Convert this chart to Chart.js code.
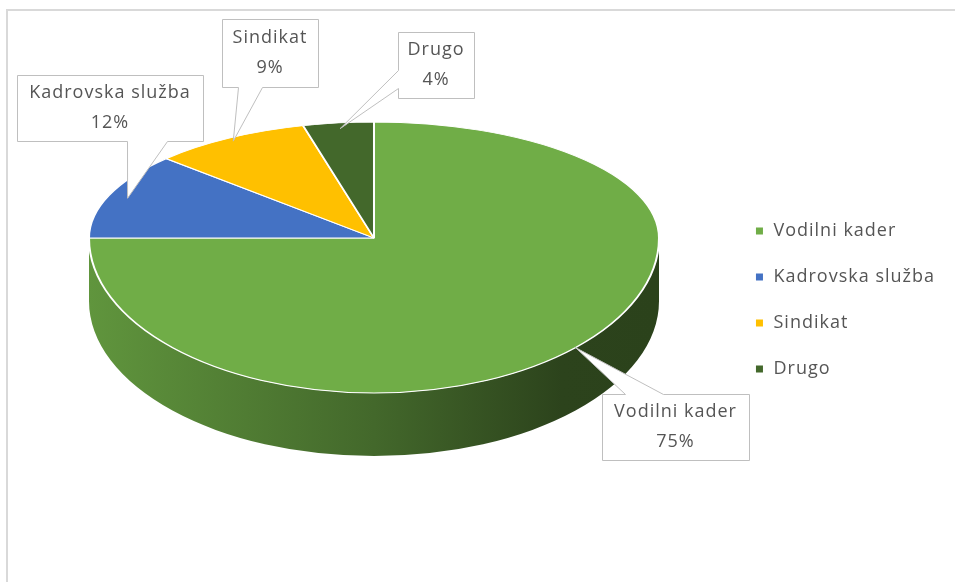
<!DOCTYPE html>
<html>
<head>
<meta charset="utf-8">
<script src="https://cdn.jsdelivr.net/npm/chart.js@4.4.0/dist/chart.umd.min.js"></script>
<style>
  html, body { margin: 0; padding: 0; background: #ffffff; }
  canvas { display: block; }
</style>
</head>
<body>
<canvas id="chart" width="955" height="582"></canvas>
<script>
const categories = ['Vodilni kader', 'Kadrovska služba', 'Sindikat', 'Drugo'];
const shares = [75, 12, 9, 4];
const sliceColors = ['#70ad47', '#4472c4', '#ffc000', '#43682b'];

// Callout boxes for the data labels: [left, top, width, height], the side that carries
// the pointer, the pointer's base span along that side, and how far out on the slice it points.
const callouts = [
  { box: [602, 394, 147, 66], side: 'top',    base: [625, 663], reach: 1.0 },
  { box: [17, 75, 186, 66],   side: 'bottom', base: [127, 167], reach: 0.93 },
  { box: [222, 19, 96, 68],   side: 'bottom', base: [238, 262], reach: 0.97 },
  { box: [398, 32, 76, 66],   side: 'left',   base: [70, 88],   reach: 0.95 }
];

// Tilted disc: centre, horizontal radius, vertical radii of the far and near halves, wall height.
const disc = { cx: 374, cy: 238, rx: 285, ryBack: 116, ryFront: 155, depth: 63 };

const FONT = '"Open Sans", "DejaVu Sans", sans-serif';
const FONT_SIZE = 18;
const TRACKING = '1px';
const TEXT = '#555555';

function project(angle, k) {
  const s = Math.sin(angle);
  const ry = s < 0 ? disc.ryBack : disc.ryFront;
  return { x: disc.cx + k * disc.rx * Math.cos(angle), y: disc.cy + k * ry * s };
}

function shade(hex, f) {
  const n = parseInt(hex.slice(1), 16);
  const r = Math.round(((n >> 16) & 255) * f);
  const g = Math.round(((n >> 8) & 255) * f);
  const b = Math.round((n & 255) * f);
  return `rgb(${r},${g},${b})`;
}

// Parts of an arc that face the viewer (angles between 0 and PI, canvas orientation).
function frontSpans(a0, a1) {
  const out = [];
  for (const k of [-2 * Math.PI, 0, 2 * Math.PI]) {
    const s = Math.max(a0 + k, 0), e = Math.min(a1 + k, Math.PI);
    if (e > s) out.push([s, e]);
  }
  return out;
}

// Slightly open letter spacing for all text, set before the legend is measured.
const tracking = {
  id: 'tracking',
  beforeLayout(chart) { chart.ctx.letterSpacing = TRACKING; },
  beforeDraw(chart) { chart.ctx.letterSpacing = TRACKING; }
};

const frame = {
  id: 'frame',
  beforeDraw(chart) {
    const ctx = chart.ctx;
    ctx.save();
    ctx.strokeStyle = '#d9d9d9';
    ctx.lineWidth = 2;
    ctx.strokeRect(7, 10, 3000, 3000);
    ctx.restore();
  }
};

const tilt = {
  id: 'tilt',
  beforeDatasetDraw(chart, args) {
    const meta = args.meta;
    const ctx = chart.ctx;
    const first = meta.data[0];
    const ox = first.x, oy = first.y, r = first.outerRadius;

    // visible wall under the near rim
    meta.data.forEach((arc) => {
      frontSpans(arc.startAngle, arc.endAngle).forEach(([s, e]) => {
        const base = arc.options.backgroundColor;
        const grad = ctx.createLinearGradient(disc.cx - disc.rx, 0, disc.cx + disc.rx, 0);
        grad.addColorStop(0, shade(base, 0.86));
        grad.addColorStop(0.5, shade(base, 0.6));
        grad.addColorStop(0.83, shade(base, 0.39));
        grad.addColorStop(1, shade(base, 0.38));
        ctx.save();
        ctx.beginPath();
        ctx.ellipse(disc.cx, disc.cy, disc.rx, disc.ryFront, 0, s, e);
        ctx.ellipse(disc.cx, disc.cy + disc.depth, disc.rx, disc.ryFront, 0, e, s, true);
        ctx.closePath();
        ctx.fillStyle = grad;
        ctx.fill();
        ctx.restore();
      });
    });

    // top face: far half and near half flattened by different amounts
    [[disc.ryBack, true], [disc.ryFront, false]].forEach(([ry, back]) => {
      ctx.save();
      ctx.beginPath();
      if (back) ctx.rect(0, 0, chart.width, disc.cy + 1);
      else ctx.rect(0, disc.cy, chart.width, chart.height - disc.cy);
      ctx.clip();
      ctx.translate(disc.cx, disc.cy);
      ctx.scale(disc.rx / r, ry / r);
      ctx.translate(-ox, -oy);
      meta.controller.draw();
      ctx.restore();
    });
    return false;
  },
  afterDatasetsDraw(chart) {
    const meta = chart.getDatasetMeta(0);
    const ctx = chart.ctx;
    const values = chart.data.datasets[0].data;
    const total = values.reduce((a, b) => a + b, 0);
    meta.data.forEach((arc, i) => {
      const c = callouts[i];
      const tip = project((arc.startAngle + arc.endAngle) / 2, c.reach);
      const [bx, by, bw, bh] = c.box;
      const L = bx + 0.5, T = by + 0.5, R = bx + bw + 0.5, B = by + bh + 0.5;
      ctx.save();
      ctx.beginPath();
      ctx.moveTo(L, T);
      if (c.side === 'top') {
        ctx.lineTo(c.base[0] + 0.5, T); ctx.lineTo(tip.x, tip.y); ctx.lineTo(c.base[1] + 0.5, T);
      }
      ctx.lineTo(R, T);
      ctx.lineTo(R, B);
      if (c.side === 'bottom') {
        ctx.lineTo(c.base[1] + 0.5, B); ctx.lineTo(tip.x, tip.y); ctx.lineTo(c.base[0] + 0.5, B);
      }
      ctx.lineTo(L, B);
      if (c.side === 'left') {
        ctx.lineTo(L, c.base[1] + 0.5); ctx.lineTo(tip.x, tip.y); ctx.lineTo(L, c.base[0] + 0.5);
      }
      ctx.closePath();
      ctx.fillStyle = '#ffffff';
      ctx.fill();
      ctx.strokeStyle = '#bfbfbf';
      ctx.lineWidth = 1;
      ctx.stroke();

      const pct = Math.round(values[i] / total * 100) + '%';
      const mx = bx + bw / 2, my = by + bh / 2;
      ctx.fillStyle = TEXT;
      ctx.font = `${FONT_SIZE}px ${FONT}`;
      ctx.letterSpacing = TRACKING;
      ctx.textAlign = 'center';
      ctx.textBaseline = 'middle';
      ctx.fillText(chart.data.labels[i], mx, my - 15);
      ctx.fillText(pct, mx, my + 15);
      ctx.restore();
    });
  }
};

new Chart(document.getElementById('chart'), {
  type: 'pie',
  data: {
    labels: categories,
    datasets: [{
      data: shares,
      backgroundColor: sliceColors,
      borderColor: '#ffffff',
      borderWidth: 2
    }]
  },
  options: {
    responsive: false,
    animation: false,
    devicePixelRatio: 1,
    events: [],
    layout: { padding: { top: 18, right: 10, bottom: 0, left: 0 } },
    plugins: {
      tooltip: { enabled: false },
      legend: {
        position: 'right',
        labels: {
          usePointStyle: true,
          pointStyle: 'rect',
          boxWidth: 10,
          boxHeight: 7,
          padding: 28,
          color: TEXT,
          font: { family: FONT, size: FONT_SIZE },
          generateLabels(chart) {
            return Chart.overrides.pie.plugins.legend.labels.generateLabels(chart)
              .map(item => Object.assign(item, { lineWidth: 0, strokeStyle: 'rgba(0,0,0,0)' }));
          }
        }
      }
    }
  },
  plugins: [tracking, frame, tilt]
});
</script>
</body>
</html>
